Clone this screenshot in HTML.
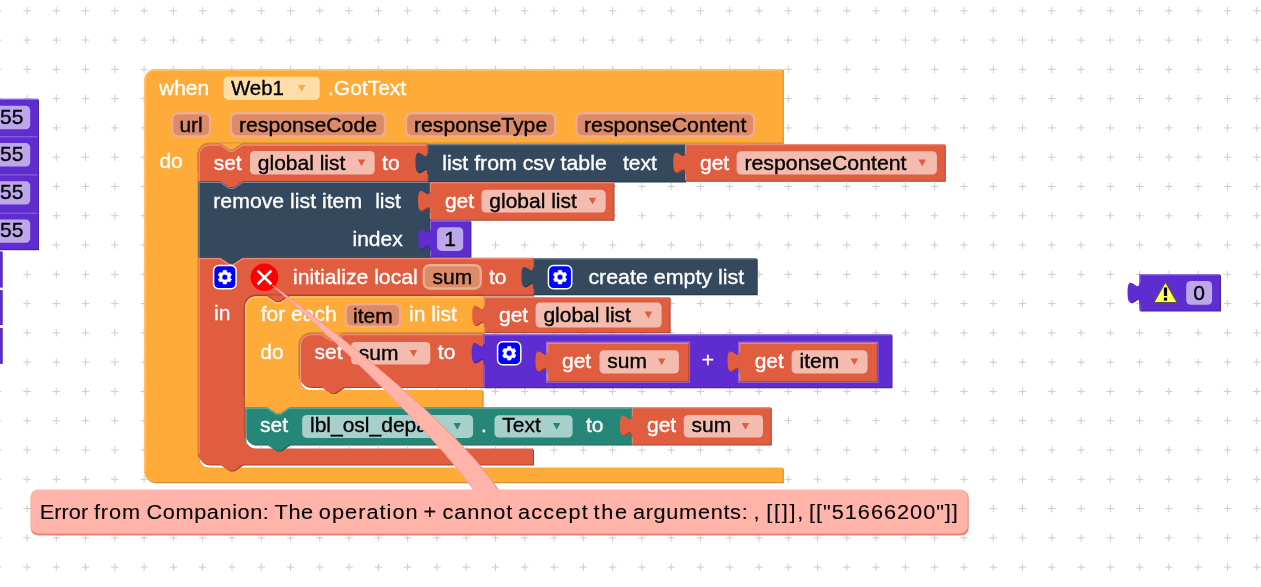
<!DOCTYPE html><html><head><meta charset="utf-8"><style>html,body{margin:0;padding:0;background:#fff;overflow:hidden}svg{display:block;will-change:transform}text{font-family:"Liberation Sans",sans-serif}</style></head><body>
<svg width="1261" height="587" viewBox="0 0 1261 587">
<rect width="1261" height="587" fill="#fff"/>
<path d="M-5.98,10.80h7.40M-2.28,7.10v7.40M-5.98,40.08h7.40M-2.28,36.38v7.40M-5.98,69.36h7.40M-2.28,65.66v7.40M-5.98,98.64h7.40M-2.28,94.94v7.40M-5.98,127.92h7.40M-2.28,124.22v7.40M-5.98,157.20h7.40M-2.28,153.50v7.40M-5.98,186.48h7.40M-2.28,182.78v7.40M-5.98,215.76h7.40M-2.28,212.06v7.40M-5.98,245.04h7.40M-2.28,241.34v7.40M-5.98,274.32h7.40M-2.28,270.62v7.40M-5.98,303.60h7.40M-2.28,299.90v7.40M-5.98,332.88h7.40M-2.28,329.18v7.40M-5.98,362.16h7.40M-2.28,358.46v7.40M-5.98,391.44h7.40M-2.28,387.74v7.40M-5.98,420.72h7.40M-2.28,417.02v7.40M-5.98,450.00h7.40M-2.28,446.30v7.40M-5.98,479.28h7.40M-2.28,475.58v7.40M-5.98,508.56h7.40M-2.28,504.86v7.40M-5.98,537.84h7.40M-2.28,534.14v7.40M-5.98,567.12h7.40M-2.28,563.42v7.40M23.30,10.80h7.40M27.00,7.10v7.40M23.30,40.08h7.40M27.00,36.38v7.40M23.30,69.36h7.40M27.00,65.66v7.40M23.30,98.64h7.40M27.00,94.94v7.40M23.30,127.92h7.40M27.00,124.22v7.40M23.30,157.20h7.40M27.00,153.50v7.40M23.30,186.48h7.40M27.00,182.78v7.40M23.30,215.76h7.40M27.00,212.06v7.40M23.30,245.04h7.40M27.00,241.34v7.40M23.30,274.32h7.40M27.00,270.62v7.40M23.30,303.60h7.40M27.00,299.90v7.40M23.30,332.88h7.40M27.00,329.18v7.40M23.30,362.16h7.40M27.00,358.46v7.40M23.30,391.44h7.40M27.00,387.74v7.40M23.30,420.72h7.40M27.00,417.02v7.40M23.30,450.00h7.40M27.00,446.30v7.40M23.30,479.28h7.40M27.00,475.58v7.40M23.30,508.56h7.40M27.00,504.86v7.40M23.30,537.84h7.40M27.00,534.14v7.40M23.30,567.12h7.40M27.00,563.42v7.40M52.58,10.80h7.40M56.28,7.10v7.40M52.58,40.08h7.40M56.28,36.38v7.40M52.58,69.36h7.40M56.28,65.66v7.40M52.58,98.64h7.40M56.28,94.94v7.40M52.58,127.92h7.40M56.28,124.22v7.40M52.58,157.20h7.40M56.28,153.50v7.40M52.58,186.48h7.40M56.28,182.78v7.40M52.58,215.76h7.40M56.28,212.06v7.40M52.58,245.04h7.40M56.28,241.34v7.40M52.58,274.32h7.40M56.28,270.62v7.40M52.58,303.60h7.40M56.28,299.90v7.40M52.58,332.88h7.40M56.28,329.18v7.40M52.58,362.16h7.40M56.28,358.46v7.40M52.58,391.44h7.40M56.28,387.74v7.40M52.58,420.72h7.40M56.28,417.02v7.40M52.58,450.00h7.40M56.28,446.30v7.40M52.58,479.28h7.40M56.28,475.58v7.40M52.58,508.56h7.40M56.28,504.86v7.40M52.58,537.84h7.40M56.28,534.14v7.40M52.58,567.12h7.40M56.28,563.42v7.40M81.86,10.80h7.40M85.56,7.10v7.40M81.86,40.08h7.40M85.56,36.38v7.40M81.86,69.36h7.40M85.56,65.66v7.40M81.86,98.64h7.40M85.56,94.94v7.40M81.86,127.92h7.40M85.56,124.22v7.40M81.86,157.20h7.40M85.56,153.50v7.40M81.86,186.48h7.40M85.56,182.78v7.40M81.86,215.76h7.40M85.56,212.06v7.40M81.86,245.04h7.40M85.56,241.34v7.40M81.86,274.32h7.40M85.56,270.62v7.40M81.86,303.60h7.40M85.56,299.90v7.40M81.86,332.88h7.40M85.56,329.18v7.40M81.86,362.16h7.40M85.56,358.46v7.40M81.86,391.44h7.40M85.56,387.74v7.40M81.86,420.72h7.40M85.56,417.02v7.40M81.86,450.00h7.40M85.56,446.30v7.40M81.86,479.28h7.40M85.56,475.58v7.40M81.86,508.56h7.40M85.56,504.86v7.40M81.86,537.84h7.40M85.56,534.14v7.40M81.86,567.12h7.40M85.56,563.42v7.40M111.14,10.80h7.40M114.84,7.10v7.40M111.14,40.08h7.40M114.84,36.38v7.40M111.14,69.36h7.40M114.84,65.66v7.40M111.14,98.64h7.40M114.84,94.94v7.40M111.14,127.92h7.40M114.84,124.22v7.40M111.14,157.20h7.40M114.84,153.50v7.40M111.14,186.48h7.40M114.84,182.78v7.40M111.14,215.76h7.40M114.84,212.06v7.40M111.14,245.04h7.40M114.84,241.34v7.40M111.14,274.32h7.40M114.84,270.62v7.40M111.14,303.60h7.40M114.84,299.90v7.40M111.14,332.88h7.40M114.84,329.18v7.40M111.14,362.16h7.40M114.84,358.46v7.40M111.14,391.44h7.40M114.84,387.74v7.40M111.14,420.72h7.40M114.84,417.02v7.40M111.14,450.00h7.40M114.84,446.30v7.40M111.14,479.28h7.40M114.84,475.58v7.40M111.14,508.56h7.40M114.84,504.86v7.40M111.14,537.84h7.40M114.84,534.14v7.40M111.14,567.12h7.40M114.84,563.42v7.40M140.42,10.80h7.40M144.12,7.10v7.40M140.42,40.08h7.40M144.12,36.38v7.40M140.42,69.36h7.40M144.12,65.66v7.40M140.42,98.64h7.40M144.12,94.94v7.40M140.42,127.92h7.40M144.12,124.22v7.40M140.42,157.20h7.40M144.12,153.50v7.40M140.42,186.48h7.40M144.12,182.78v7.40M140.42,215.76h7.40M144.12,212.06v7.40M140.42,245.04h7.40M144.12,241.34v7.40M140.42,274.32h7.40M144.12,270.62v7.40M140.42,303.60h7.40M144.12,299.90v7.40M140.42,332.88h7.40M144.12,329.18v7.40M140.42,362.16h7.40M144.12,358.46v7.40M140.42,391.44h7.40M144.12,387.74v7.40M140.42,420.72h7.40M144.12,417.02v7.40M140.42,450.00h7.40M144.12,446.30v7.40M140.42,479.28h7.40M144.12,475.58v7.40M140.42,508.56h7.40M144.12,504.86v7.40M140.42,537.84h7.40M144.12,534.14v7.40M140.42,567.12h7.40M144.12,563.42v7.40M169.70,10.80h7.40M173.40,7.10v7.40M169.70,40.08h7.40M173.40,36.38v7.40M169.70,69.36h7.40M173.40,65.66v7.40M169.70,98.64h7.40M173.40,94.94v7.40M169.70,127.92h7.40M173.40,124.22v7.40M169.70,157.20h7.40M173.40,153.50v7.40M169.70,186.48h7.40M173.40,182.78v7.40M169.70,215.76h7.40M173.40,212.06v7.40M169.70,245.04h7.40M173.40,241.34v7.40M169.70,274.32h7.40M173.40,270.62v7.40M169.70,303.60h7.40M173.40,299.90v7.40M169.70,332.88h7.40M173.40,329.18v7.40M169.70,362.16h7.40M173.40,358.46v7.40M169.70,391.44h7.40M173.40,387.74v7.40M169.70,420.72h7.40M173.40,417.02v7.40M169.70,450.00h7.40M173.40,446.30v7.40M169.70,479.28h7.40M173.40,475.58v7.40M169.70,508.56h7.40M173.40,504.86v7.40M169.70,537.84h7.40M173.40,534.14v7.40M169.70,567.12h7.40M173.40,563.42v7.40M198.98,10.80h7.40M202.68,7.10v7.40M198.98,40.08h7.40M202.68,36.38v7.40M198.98,69.36h7.40M202.68,65.66v7.40M198.98,98.64h7.40M202.68,94.94v7.40M198.98,127.92h7.40M202.68,124.22v7.40M198.98,157.20h7.40M202.68,153.50v7.40M198.98,186.48h7.40M202.68,182.78v7.40M198.98,215.76h7.40M202.68,212.06v7.40M198.98,245.04h7.40M202.68,241.34v7.40M198.98,274.32h7.40M202.68,270.62v7.40M198.98,303.60h7.40M202.68,299.90v7.40M198.98,332.88h7.40M202.68,329.18v7.40M198.98,362.16h7.40M202.68,358.46v7.40M198.98,391.44h7.40M202.68,387.74v7.40M198.98,420.72h7.40M202.68,417.02v7.40M198.98,450.00h7.40M202.68,446.30v7.40M198.98,479.28h7.40M202.68,475.58v7.40M198.98,508.56h7.40M202.68,504.86v7.40M198.98,537.84h7.40M202.68,534.14v7.40M198.98,567.12h7.40M202.68,563.42v7.40M228.26,10.80h7.40M231.96,7.10v7.40M228.26,40.08h7.40M231.96,36.38v7.40M228.26,69.36h7.40M231.96,65.66v7.40M228.26,98.64h7.40M231.96,94.94v7.40M228.26,127.92h7.40M231.96,124.22v7.40M228.26,157.20h7.40M231.96,153.50v7.40M228.26,186.48h7.40M231.96,182.78v7.40M228.26,215.76h7.40M231.96,212.06v7.40M228.26,245.04h7.40M231.96,241.34v7.40M228.26,274.32h7.40M231.96,270.62v7.40M228.26,303.60h7.40M231.96,299.90v7.40M228.26,332.88h7.40M231.96,329.18v7.40M228.26,362.16h7.40M231.96,358.46v7.40M228.26,391.44h7.40M231.96,387.74v7.40M228.26,420.72h7.40M231.96,417.02v7.40M228.26,450.00h7.40M231.96,446.30v7.40M228.26,479.28h7.40M231.96,475.58v7.40M228.26,508.56h7.40M231.96,504.86v7.40M228.26,537.84h7.40M231.96,534.14v7.40M228.26,567.12h7.40M231.96,563.42v7.40M257.54,10.80h7.40M261.24,7.10v7.40M257.54,40.08h7.40M261.24,36.38v7.40M257.54,69.36h7.40M261.24,65.66v7.40M257.54,98.64h7.40M261.24,94.94v7.40M257.54,127.92h7.40M261.24,124.22v7.40M257.54,157.20h7.40M261.24,153.50v7.40M257.54,186.48h7.40M261.24,182.78v7.40M257.54,215.76h7.40M261.24,212.06v7.40M257.54,245.04h7.40M261.24,241.34v7.40M257.54,274.32h7.40M261.24,270.62v7.40M257.54,303.60h7.40M261.24,299.90v7.40M257.54,332.88h7.40M261.24,329.18v7.40M257.54,362.16h7.40M261.24,358.46v7.40M257.54,391.44h7.40M261.24,387.74v7.40M257.54,420.72h7.40M261.24,417.02v7.40M257.54,450.00h7.40M261.24,446.30v7.40M257.54,479.28h7.40M261.24,475.58v7.40M257.54,508.56h7.40M261.24,504.86v7.40M257.54,537.84h7.40M261.24,534.14v7.40M257.54,567.12h7.40M261.24,563.42v7.40M286.82,10.80h7.40M290.52,7.10v7.40M286.82,40.08h7.40M290.52,36.38v7.40M286.82,69.36h7.40M290.52,65.66v7.40M286.82,98.64h7.40M290.52,94.94v7.40M286.82,127.92h7.40M290.52,124.22v7.40M286.82,157.20h7.40M290.52,153.50v7.40M286.82,186.48h7.40M290.52,182.78v7.40M286.82,215.76h7.40M290.52,212.06v7.40M286.82,245.04h7.40M290.52,241.34v7.40M286.82,274.32h7.40M290.52,270.62v7.40M286.82,303.60h7.40M290.52,299.90v7.40M286.82,332.88h7.40M290.52,329.18v7.40M286.82,362.16h7.40M290.52,358.46v7.40M286.82,391.44h7.40M290.52,387.74v7.40M286.82,420.72h7.40M290.52,417.02v7.40M286.82,450.00h7.40M290.52,446.30v7.40M286.82,479.28h7.40M290.52,475.58v7.40M286.82,508.56h7.40M290.52,504.86v7.40M286.82,537.84h7.40M290.52,534.14v7.40M286.82,567.12h7.40M290.52,563.42v7.40M316.10,10.80h7.40M319.80,7.10v7.40M316.10,40.08h7.40M319.80,36.38v7.40M316.10,69.36h7.40M319.80,65.66v7.40M316.10,98.64h7.40M319.80,94.94v7.40M316.10,127.92h7.40M319.80,124.22v7.40M316.10,157.20h7.40M319.80,153.50v7.40M316.10,186.48h7.40M319.80,182.78v7.40M316.10,215.76h7.40M319.80,212.06v7.40M316.10,245.04h7.40M319.80,241.34v7.40M316.10,274.32h7.40M319.80,270.62v7.40M316.10,303.60h7.40M319.80,299.90v7.40M316.10,332.88h7.40M319.80,329.18v7.40M316.10,362.16h7.40M319.80,358.46v7.40M316.10,391.44h7.40M319.80,387.74v7.40M316.10,420.72h7.40M319.80,417.02v7.40M316.10,450.00h7.40M319.80,446.30v7.40M316.10,479.28h7.40M319.80,475.58v7.40M316.10,508.56h7.40M319.80,504.86v7.40M316.10,537.84h7.40M319.80,534.14v7.40M316.10,567.12h7.40M319.80,563.42v7.40M345.38,10.80h7.40M349.08,7.10v7.40M345.38,40.08h7.40M349.08,36.38v7.40M345.38,69.36h7.40M349.08,65.66v7.40M345.38,98.64h7.40M349.08,94.94v7.40M345.38,127.92h7.40M349.08,124.22v7.40M345.38,157.20h7.40M349.08,153.50v7.40M345.38,186.48h7.40M349.08,182.78v7.40M345.38,215.76h7.40M349.08,212.06v7.40M345.38,245.04h7.40M349.08,241.34v7.40M345.38,274.32h7.40M349.08,270.62v7.40M345.38,303.60h7.40M349.08,299.90v7.40M345.38,332.88h7.40M349.08,329.18v7.40M345.38,362.16h7.40M349.08,358.46v7.40M345.38,391.44h7.40M349.08,387.74v7.40M345.38,420.72h7.40M349.08,417.02v7.40M345.38,450.00h7.40M349.08,446.30v7.40M345.38,479.28h7.40M349.08,475.58v7.40M345.38,508.56h7.40M349.08,504.86v7.40M345.38,537.84h7.40M349.08,534.14v7.40M345.38,567.12h7.40M349.08,563.42v7.40M374.66,10.80h7.40M378.36,7.10v7.40M374.66,40.08h7.40M378.36,36.38v7.40M374.66,69.36h7.40M378.36,65.66v7.40M374.66,98.64h7.40M378.36,94.94v7.40M374.66,127.92h7.40M378.36,124.22v7.40M374.66,157.20h7.40M378.36,153.50v7.40M374.66,186.48h7.40M378.36,182.78v7.40M374.66,215.76h7.40M378.36,212.06v7.40M374.66,245.04h7.40M378.36,241.34v7.40M374.66,274.32h7.40M378.36,270.62v7.40M374.66,303.60h7.40M378.36,299.90v7.40M374.66,332.88h7.40M378.36,329.18v7.40M374.66,362.16h7.40M378.36,358.46v7.40M374.66,391.44h7.40M378.36,387.74v7.40M374.66,420.72h7.40M378.36,417.02v7.40M374.66,450.00h7.40M378.36,446.30v7.40M374.66,479.28h7.40M378.36,475.58v7.40M374.66,508.56h7.40M378.36,504.86v7.40M374.66,537.84h7.40M378.36,534.14v7.40M374.66,567.12h7.40M378.36,563.42v7.40M403.94,10.80h7.40M407.64,7.10v7.40M403.94,40.08h7.40M407.64,36.38v7.40M403.94,69.36h7.40M407.64,65.66v7.40M403.94,98.64h7.40M407.64,94.94v7.40M403.94,127.92h7.40M407.64,124.22v7.40M403.94,157.20h7.40M407.64,153.50v7.40M403.94,186.48h7.40M407.64,182.78v7.40M403.94,215.76h7.40M407.64,212.06v7.40M403.94,245.04h7.40M407.64,241.34v7.40M403.94,274.32h7.40M407.64,270.62v7.40M403.94,303.60h7.40M407.64,299.90v7.40M403.94,332.88h7.40M407.64,329.18v7.40M403.94,362.16h7.40M407.64,358.46v7.40M403.94,391.44h7.40M407.64,387.74v7.40M403.94,420.72h7.40M407.64,417.02v7.40M403.94,450.00h7.40M407.64,446.30v7.40M403.94,479.28h7.40M407.64,475.58v7.40M403.94,508.56h7.40M407.64,504.86v7.40M403.94,537.84h7.40M407.64,534.14v7.40M403.94,567.12h7.40M407.64,563.42v7.40M433.22,10.80h7.40M436.92,7.10v7.40M433.22,40.08h7.40M436.92,36.38v7.40M433.22,69.36h7.40M436.92,65.66v7.40M433.22,98.64h7.40M436.92,94.94v7.40M433.22,127.92h7.40M436.92,124.22v7.40M433.22,157.20h7.40M436.92,153.50v7.40M433.22,186.48h7.40M436.92,182.78v7.40M433.22,215.76h7.40M436.92,212.06v7.40M433.22,245.04h7.40M436.92,241.34v7.40M433.22,274.32h7.40M436.92,270.62v7.40M433.22,303.60h7.40M436.92,299.90v7.40M433.22,332.88h7.40M436.92,329.18v7.40M433.22,362.16h7.40M436.92,358.46v7.40M433.22,391.44h7.40M436.92,387.74v7.40M433.22,420.72h7.40M436.92,417.02v7.40M433.22,450.00h7.40M436.92,446.30v7.40M433.22,479.28h7.40M436.92,475.58v7.40M433.22,508.56h7.40M436.92,504.86v7.40M433.22,537.84h7.40M436.92,534.14v7.40M433.22,567.12h7.40M436.92,563.42v7.40M462.50,10.80h7.40M466.20,7.10v7.40M462.50,40.08h7.40M466.20,36.38v7.40M462.50,69.36h7.40M466.20,65.66v7.40M462.50,98.64h7.40M466.20,94.94v7.40M462.50,127.92h7.40M466.20,124.22v7.40M462.50,157.20h7.40M466.20,153.50v7.40M462.50,186.48h7.40M466.20,182.78v7.40M462.50,215.76h7.40M466.20,212.06v7.40M462.50,245.04h7.40M466.20,241.34v7.40M462.50,274.32h7.40M466.20,270.62v7.40M462.50,303.60h7.40M466.20,299.90v7.40M462.50,332.88h7.40M466.20,329.18v7.40M462.50,362.16h7.40M466.20,358.46v7.40M462.50,391.44h7.40M466.20,387.74v7.40M462.50,420.72h7.40M466.20,417.02v7.40M462.50,450.00h7.40M466.20,446.30v7.40M462.50,479.28h7.40M466.20,475.58v7.40M462.50,508.56h7.40M466.20,504.86v7.40M462.50,537.84h7.40M466.20,534.14v7.40M462.50,567.12h7.40M466.20,563.42v7.40M491.78,10.80h7.40M495.48,7.10v7.40M491.78,40.08h7.40M495.48,36.38v7.40M491.78,69.36h7.40M495.48,65.66v7.40M491.78,98.64h7.40M495.48,94.94v7.40M491.78,127.92h7.40M495.48,124.22v7.40M491.78,157.20h7.40M495.48,153.50v7.40M491.78,186.48h7.40M495.48,182.78v7.40M491.78,215.76h7.40M495.48,212.06v7.40M491.78,245.04h7.40M495.48,241.34v7.40M491.78,274.32h7.40M495.48,270.62v7.40M491.78,303.60h7.40M495.48,299.90v7.40M491.78,332.88h7.40M495.48,329.18v7.40M491.78,362.16h7.40M495.48,358.46v7.40M491.78,391.44h7.40M495.48,387.74v7.40M491.78,420.72h7.40M495.48,417.02v7.40M491.78,450.00h7.40M495.48,446.30v7.40M491.78,479.28h7.40M495.48,475.58v7.40M491.78,508.56h7.40M495.48,504.86v7.40M491.78,537.84h7.40M495.48,534.14v7.40M491.78,567.12h7.40M495.48,563.42v7.40M521.06,10.80h7.40M524.76,7.10v7.40M521.06,40.08h7.40M524.76,36.38v7.40M521.06,69.36h7.40M524.76,65.66v7.40M521.06,98.64h7.40M524.76,94.94v7.40M521.06,127.92h7.40M524.76,124.22v7.40M521.06,157.20h7.40M524.76,153.50v7.40M521.06,186.48h7.40M524.76,182.78v7.40M521.06,215.76h7.40M524.76,212.06v7.40M521.06,245.04h7.40M524.76,241.34v7.40M521.06,274.32h7.40M524.76,270.62v7.40M521.06,303.60h7.40M524.76,299.90v7.40M521.06,332.88h7.40M524.76,329.18v7.40M521.06,362.16h7.40M524.76,358.46v7.40M521.06,391.44h7.40M524.76,387.74v7.40M521.06,420.72h7.40M524.76,417.02v7.40M521.06,450.00h7.40M524.76,446.30v7.40M521.06,479.28h7.40M524.76,475.58v7.40M521.06,508.56h7.40M524.76,504.86v7.40M521.06,537.84h7.40M524.76,534.14v7.40M521.06,567.12h7.40M524.76,563.42v7.40M550.34,10.80h7.40M554.04,7.10v7.40M550.34,40.08h7.40M554.04,36.38v7.40M550.34,69.36h7.40M554.04,65.66v7.40M550.34,98.64h7.40M554.04,94.94v7.40M550.34,127.92h7.40M554.04,124.22v7.40M550.34,157.20h7.40M554.04,153.50v7.40M550.34,186.48h7.40M554.04,182.78v7.40M550.34,215.76h7.40M554.04,212.06v7.40M550.34,245.04h7.40M554.04,241.34v7.40M550.34,274.32h7.40M554.04,270.62v7.40M550.34,303.60h7.40M554.04,299.90v7.40M550.34,332.88h7.40M554.04,329.18v7.40M550.34,362.16h7.40M554.04,358.46v7.40M550.34,391.44h7.40M554.04,387.74v7.40M550.34,420.72h7.40M554.04,417.02v7.40M550.34,450.00h7.40M554.04,446.30v7.40M550.34,479.28h7.40M554.04,475.58v7.40M550.34,508.56h7.40M554.04,504.86v7.40M550.34,537.84h7.40M554.04,534.14v7.40M550.34,567.12h7.40M554.04,563.42v7.40M579.62,10.80h7.40M583.32,7.10v7.40M579.62,40.08h7.40M583.32,36.38v7.40M579.62,69.36h7.40M583.32,65.66v7.40M579.62,98.64h7.40M583.32,94.94v7.40M579.62,127.92h7.40M583.32,124.22v7.40M579.62,157.20h7.40M583.32,153.50v7.40M579.62,186.48h7.40M583.32,182.78v7.40M579.62,215.76h7.40M583.32,212.06v7.40M579.62,245.04h7.40M583.32,241.34v7.40M579.62,274.32h7.40M583.32,270.62v7.40M579.62,303.60h7.40M583.32,299.90v7.40M579.62,332.88h7.40M583.32,329.18v7.40M579.62,362.16h7.40M583.32,358.46v7.40M579.62,391.44h7.40M583.32,387.74v7.40M579.62,420.72h7.40M583.32,417.02v7.40M579.62,450.00h7.40M583.32,446.30v7.40M579.62,479.28h7.40M583.32,475.58v7.40M579.62,508.56h7.40M583.32,504.86v7.40M579.62,537.84h7.40M583.32,534.14v7.40M579.62,567.12h7.40M583.32,563.42v7.40M608.90,10.80h7.40M612.60,7.10v7.40M608.90,40.08h7.40M612.60,36.38v7.40M608.90,69.36h7.40M612.60,65.66v7.40M608.90,98.64h7.40M612.60,94.94v7.40M608.90,127.92h7.40M612.60,124.22v7.40M608.90,157.20h7.40M612.60,153.50v7.40M608.90,186.48h7.40M612.60,182.78v7.40M608.90,215.76h7.40M612.60,212.06v7.40M608.90,245.04h7.40M612.60,241.34v7.40M608.90,274.32h7.40M612.60,270.62v7.40M608.90,303.60h7.40M612.60,299.90v7.40M608.90,332.88h7.40M612.60,329.18v7.40M608.90,362.16h7.40M612.60,358.46v7.40M608.90,391.44h7.40M612.60,387.74v7.40M608.90,420.72h7.40M612.60,417.02v7.40M608.90,450.00h7.40M612.60,446.30v7.40M608.90,479.28h7.40M612.60,475.58v7.40M608.90,508.56h7.40M612.60,504.86v7.40M608.90,537.84h7.40M612.60,534.14v7.40M608.90,567.12h7.40M612.60,563.42v7.40M638.18,10.80h7.40M641.88,7.10v7.40M638.18,40.08h7.40M641.88,36.38v7.40M638.18,69.36h7.40M641.88,65.66v7.40M638.18,98.64h7.40M641.88,94.94v7.40M638.18,127.92h7.40M641.88,124.22v7.40M638.18,157.20h7.40M641.88,153.50v7.40M638.18,186.48h7.40M641.88,182.78v7.40M638.18,215.76h7.40M641.88,212.06v7.40M638.18,245.04h7.40M641.88,241.34v7.40M638.18,274.32h7.40M641.88,270.62v7.40M638.18,303.60h7.40M641.88,299.90v7.40M638.18,332.88h7.40M641.88,329.18v7.40M638.18,362.16h7.40M641.88,358.46v7.40M638.18,391.44h7.40M641.88,387.74v7.40M638.18,420.72h7.40M641.88,417.02v7.40M638.18,450.00h7.40M641.88,446.30v7.40M638.18,479.28h7.40M641.88,475.58v7.40M638.18,508.56h7.40M641.88,504.86v7.40M638.18,537.84h7.40M641.88,534.14v7.40M638.18,567.12h7.40M641.88,563.42v7.40M667.46,10.80h7.40M671.16,7.10v7.40M667.46,40.08h7.40M671.16,36.38v7.40M667.46,69.36h7.40M671.16,65.66v7.40M667.46,98.64h7.40M671.16,94.94v7.40M667.46,127.92h7.40M671.16,124.22v7.40M667.46,157.20h7.40M671.16,153.50v7.40M667.46,186.48h7.40M671.16,182.78v7.40M667.46,215.76h7.40M671.16,212.06v7.40M667.46,245.04h7.40M671.16,241.34v7.40M667.46,274.32h7.40M671.16,270.62v7.40M667.46,303.60h7.40M671.16,299.90v7.40M667.46,332.88h7.40M671.16,329.18v7.40M667.46,362.16h7.40M671.16,358.46v7.40M667.46,391.44h7.40M671.16,387.74v7.40M667.46,420.72h7.40M671.16,417.02v7.40M667.46,450.00h7.40M671.16,446.30v7.40M667.46,479.28h7.40M671.16,475.58v7.40M667.46,508.56h7.40M671.16,504.86v7.40M667.46,537.84h7.40M671.16,534.14v7.40M667.46,567.12h7.40M671.16,563.42v7.40M696.74,10.80h7.40M700.44,7.10v7.40M696.74,40.08h7.40M700.44,36.38v7.40M696.74,69.36h7.40M700.44,65.66v7.40M696.74,98.64h7.40M700.44,94.94v7.40M696.74,127.92h7.40M700.44,124.22v7.40M696.74,157.20h7.40M700.44,153.50v7.40M696.74,186.48h7.40M700.44,182.78v7.40M696.74,215.76h7.40M700.44,212.06v7.40M696.74,245.04h7.40M700.44,241.34v7.40M696.74,274.32h7.40M700.44,270.62v7.40M696.74,303.60h7.40M700.44,299.90v7.40M696.74,332.88h7.40M700.44,329.18v7.40M696.74,362.16h7.40M700.44,358.46v7.40M696.74,391.44h7.40M700.44,387.74v7.40M696.74,420.72h7.40M700.44,417.02v7.40M696.74,450.00h7.40M700.44,446.30v7.40M696.74,479.28h7.40M700.44,475.58v7.40M696.74,508.56h7.40M700.44,504.86v7.40M696.74,537.84h7.40M700.44,534.14v7.40M696.74,567.12h7.40M700.44,563.42v7.40M726.02,10.80h7.40M729.72,7.10v7.40M726.02,40.08h7.40M729.72,36.38v7.40M726.02,69.36h7.40M729.72,65.66v7.40M726.02,98.64h7.40M729.72,94.94v7.40M726.02,127.92h7.40M729.72,124.22v7.40M726.02,157.20h7.40M729.72,153.50v7.40M726.02,186.48h7.40M729.72,182.78v7.40M726.02,215.76h7.40M729.72,212.06v7.40M726.02,245.04h7.40M729.72,241.34v7.40M726.02,274.32h7.40M729.72,270.62v7.40M726.02,303.60h7.40M729.72,299.90v7.40M726.02,332.88h7.40M729.72,329.18v7.40M726.02,362.16h7.40M729.72,358.46v7.40M726.02,391.44h7.40M729.72,387.74v7.40M726.02,420.72h7.40M729.72,417.02v7.40M726.02,450.00h7.40M729.72,446.30v7.40M726.02,479.28h7.40M729.72,475.58v7.40M726.02,508.56h7.40M729.72,504.86v7.40M726.02,537.84h7.40M729.72,534.14v7.40M726.02,567.12h7.40M729.72,563.42v7.40M755.30,10.80h7.40M759.00,7.10v7.40M755.30,40.08h7.40M759.00,36.38v7.40M755.30,69.36h7.40M759.00,65.66v7.40M755.30,98.64h7.40M759.00,94.94v7.40M755.30,127.92h7.40M759.00,124.22v7.40M755.30,157.20h7.40M759.00,153.50v7.40M755.30,186.48h7.40M759.00,182.78v7.40M755.30,215.76h7.40M759.00,212.06v7.40M755.30,245.04h7.40M759.00,241.34v7.40M755.30,274.32h7.40M759.00,270.62v7.40M755.30,303.60h7.40M759.00,299.90v7.40M755.30,332.88h7.40M759.00,329.18v7.40M755.30,362.16h7.40M759.00,358.46v7.40M755.30,391.44h7.40M759.00,387.74v7.40M755.30,420.72h7.40M759.00,417.02v7.40M755.30,450.00h7.40M759.00,446.30v7.40M755.30,479.28h7.40M759.00,475.58v7.40M755.30,508.56h7.40M759.00,504.86v7.40M755.30,537.84h7.40M759.00,534.14v7.40M755.30,567.12h7.40M759.00,563.42v7.40M784.58,10.80h7.40M788.28,7.10v7.40M784.58,40.08h7.40M788.28,36.38v7.40M784.58,69.36h7.40M788.28,65.66v7.40M784.58,98.64h7.40M788.28,94.94v7.40M784.58,127.92h7.40M788.28,124.22v7.40M784.58,157.20h7.40M788.28,153.50v7.40M784.58,186.48h7.40M788.28,182.78v7.40M784.58,215.76h7.40M788.28,212.06v7.40M784.58,245.04h7.40M788.28,241.34v7.40M784.58,274.32h7.40M788.28,270.62v7.40M784.58,303.60h7.40M788.28,299.90v7.40M784.58,332.88h7.40M788.28,329.18v7.40M784.58,362.16h7.40M788.28,358.46v7.40M784.58,391.44h7.40M788.28,387.74v7.40M784.58,420.72h7.40M788.28,417.02v7.40M784.58,450.00h7.40M788.28,446.30v7.40M784.58,479.28h7.40M788.28,475.58v7.40M784.58,508.56h7.40M788.28,504.86v7.40M784.58,537.84h7.40M788.28,534.14v7.40M784.58,567.12h7.40M788.28,563.42v7.40M813.86,10.80h7.40M817.56,7.10v7.40M813.86,40.08h7.40M817.56,36.38v7.40M813.86,69.36h7.40M817.56,65.66v7.40M813.86,98.64h7.40M817.56,94.94v7.40M813.86,127.92h7.40M817.56,124.22v7.40M813.86,157.20h7.40M817.56,153.50v7.40M813.86,186.48h7.40M817.56,182.78v7.40M813.86,215.76h7.40M817.56,212.06v7.40M813.86,245.04h7.40M817.56,241.34v7.40M813.86,274.32h7.40M817.56,270.62v7.40M813.86,303.60h7.40M817.56,299.90v7.40M813.86,332.88h7.40M817.56,329.18v7.40M813.86,362.16h7.40M817.56,358.46v7.40M813.86,391.44h7.40M817.56,387.74v7.40M813.86,420.72h7.40M817.56,417.02v7.40M813.86,450.00h7.40M817.56,446.30v7.40M813.86,479.28h7.40M817.56,475.58v7.40M813.86,508.56h7.40M817.56,504.86v7.40M813.86,537.84h7.40M817.56,534.14v7.40M813.86,567.12h7.40M817.56,563.42v7.40M843.14,10.80h7.40M846.84,7.10v7.40M843.14,40.08h7.40M846.84,36.38v7.40M843.14,69.36h7.40M846.84,65.66v7.40M843.14,98.64h7.40M846.84,94.94v7.40M843.14,127.92h7.40M846.84,124.22v7.40M843.14,157.20h7.40M846.84,153.50v7.40M843.14,186.48h7.40M846.84,182.78v7.40M843.14,215.76h7.40M846.84,212.06v7.40M843.14,245.04h7.40M846.84,241.34v7.40M843.14,274.32h7.40M846.84,270.62v7.40M843.14,303.60h7.40M846.84,299.90v7.40M843.14,332.88h7.40M846.84,329.18v7.40M843.14,362.16h7.40M846.84,358.46v7.40M843.14,391.44h7.40M846.84,387.74v7.40M843.14,420.72h7.40M846.84,417.02v7.40M843.14,450.00h7.40M846.84,446.30v7.40M843.14,479.28h7.40M846.84,475.58v7.40M843.14,508.56h7.40M846.84,504.86v7.40M843.14,537.84h7.40M846.84,534.14v7.40M843.14,567.12h7.40M846.84,563.42v7.40M872.42,10.80h7.40M876.12,7.10v7.40M872.42,40.08h7.40M876.12,36.38v7.40M872.42,69.36h7.40M876.12,65.66v7.40M872.42,98.64h7.40M876.12,94.94v7.40M872.42,127.92h7.40M876.12,124.22v7.40M872.42,157.20h7.40M876.12,153.50v7.40M872.42,186.48h7.40M876.12,182.78v7.40M872.42,215.76h7.40M876.12,212.06v7.40M872.42,245.04h7.40M876.12,241.34v7.40M872.42,274.32h7.40M876.12,270.62v7.40M872.42,303.60h7.40M876.12,299.90v7.40M872.42,332.88h7.40M876.12,329.18v7.40M872.42,362.16h7.40M876.12,358.46v7.40M872.42,391.44h7.40M876.12,387.74v7.40M872.42,420.72h7.40M876.12,417.02v7.40M872.42,450.00h7.40M876.12,446.30v7.40M872.42,479.28h7.40M876.12,475.58v7.40M872.42,508.56h7.40M876.12,504.86v7.40M872.42,537.84h7.40M876.12,534.14v7.40M872.42,567.12h7.40M876.12,563.42v7.40M901.70,10.80h7.40M905.40,7.10v7.40M901.70,40.08h7.40M905.40,36.38v7.40M901.70,69.36h7.40M905.40,65.66v7.40M901.70,98.64h7.40M905.40,94.94v7.40M901.70,127.92h7.40M905.40,124.22v7.40M901.70,157.20h7.40M905.40,153.50v7.40M901.70,186.48h7.40M905.40,182.78v7.40M901.70,215.76h7.40M905.40,212.06v7.40M901.70,245.04h7.40M905.40,241.34v7.40M901.70,274.32h7.40M905.40,270.62v7.40M901.70,303.60h7.40M905.40,299.90v7.40M901.70,332.88h7.40M905.40,329.18v7.40M901.70,362.16h7.40M905.40,358.46v7.40M901.70,391.44h7.40M905.40,387.74v7.40M901.70,420.72h7.40M905.40,417.02v7.40M901.70,450.00h7.40M905.40,446.30v7.40M901.70,479.28h7.40M905.40,475.58v7.40M901.70,508.56h7.40M905.40,504.86v7.40M901.70,537.84h7.40M905.40,534.14v7.40M901.70,567.12h7.40M905.40,563.42v7.40M930.98,10.80h7.40M934.68,7.10v7.40M930.98,40.08h7.40M934.68,36.38v7.40M930.98,69.36h7.40M934.68,65.66v7.40M930.98,98.64h7.40M934.68,94.94v7.40M930.98,127.92h7.40M934.68,124.22v7.40M930.98,157.20h7.40M934.68,153.50v7.40M930.98,186.48h7.40M934.68,182.78v7.40M930.98,215.76h7.40M934.68,212.06v7.40M930.98,245.04h7.40M934.68,241.34v7.40M930.98,274.32h7.40M934.68,270.62v7.40M930.98,303.60h7.40M934.68,299.90v7.40M930.98,332.88h7.40M934.68,329.18v7.40M930.98,362.16h7.40M934.68,358.46v7.40M930.98,391.44h7.40M934.68,387.74v7.40M930.98,420.72h7.40M934.68,417.02v7.40M930.98,450.00h7.40M934.68,446.30v7.40M930.98,479.28h7.40M934.68,475.58v7.40M930.98,508.56h7.40M934.68,504.86v7.40M930.98,537.84h7.40M934.68,534.14v7.40M930.98,567.12h7.40M934.68,563.42v7.40M960.26,10.80h7.40M963.96,7.10v7.40M960.26,40.08h7.40M963.96,36.38v7.40M960.26,69.36h7.40M963.96,65.66v7.40M960.26,98.64h7.40M963.96,94.94v7.40M960.26,127.92h7.40M963.96,124.22v7.40M960.26,157.20h7.40M963.96,153.50v7.40M960.26,186.48h7.40M963.96,182.78v7.40M960.26,215.76h7.40M963.96,212.06v7.40M960.26,245.04h7.40M963.96,241.34v7.40M960.26,274.32h7.40M963.96,270.62v7.40M960.26,303.60h7.40M963.96,299.90v7.40M960.26,332.88h7.40M963.96,329.18v7.40M960.26,362.16h7.40M963.96,358.46v7.40M960.26,391.44h7.40M963.96,387.74v7.40M960.26,420.72h7.40M963.96,417.02v7.40M960.26,450.00h7.40M963.96,446.30v7.40M960.26,479.28h7.40M963.96,475.58v7.40M960.26,508.56h7.40M963.96,504.86v7.40M960.26,537.84h7.40M963.96,534.14v7.40M960.26,567.12h7.40M963.96,563.42v7.40M989.54,10.80h7.40M993.24,7.10v7.40M989.54,40.08h7.40M993.24,36.38v7.40M989.54,69.36h7.40M993.24,65.66v7.40M989.54,98.64h7.40M993.24,94.94v7.40M989.54,127.92h7.40M993.24,124.22v7.40M989.54,157.20h7.40M993.24,153.50v7.40M989.54,186.48h7.40M993.24,182.78v7.40M989.54,215.76h7.40M993.24,212.06v7.40M989.54,245.04h7.40M993.24,241.34v7.40M989.54,274.32h7.40M993.24,270.62v7.40M989.54,303.60h7.40M993.24,299.90v7.40M989.54,332.88h7.40M993.24,329.18v7.40M989.54,362.16h7.40M993.24,358.46v7.40M989.54,391.44h7.40M993.24,387.74v7.40M989.54,420.72h7.40M993.24,417.02v7.40M989.54,450.00h7.40M993.24,446.30v7.40M989.54,479.28h7.40M993.24,475.58v7.40M989.54,508.56h7.40M993.24,504.86v7.40M989.54,537.84h7.40M993.24,534.14v7.40M989.54,567.12h7.40M993.24,563.42v7.40M1018.82,10.80h7.40M1022.52,7.10v7.40M1018.82,40.08h7.40M1022.52,36.38v7.40M1018.82,69.36h7.40M1022.52,65.66v7.40M1018.82,98.64h7.40M1022.52,94.94v7.40M1018.82,127.92h7.40M1022.52,124.22v7.40M1018.82,157.20h7.40M1022.52,153.50v7.40M1018.82,186.48h7.40M1022.52,182.78v7.40M1018.82,215.76h7.40M1022.52,212.06v7.40M1018.82,245.04h7.40M1022.52,241.34v7.40M1018.82,274.32h7.40M1022.52,270.62v7.40M1018.82,303.60h7.40M1022.52,299.90v7.40M1018.82,332.88h7.40M1022.52,329.18v7.40M1018.82,362.16h7.40M1022.52,358.46v7.40M1018.82,391.44h7.40M1022.52,387.74v7.40M1018.82,420.72h7.40M1022.52,417.02v7.40M1018.82,450.00h7.40M1022.52,446.30v7.40M1018.82,479.28h7.40M1022.52,475.58v7.40M1018.82,508.56h7.40M1022.52,504.86v7.40M1018.82,537.84h7.40M1022.52,534.14v7.40M1018.82,567.12h7.40M1022.52,563.42v7.40M1048.10,10.80h7.40M1051.80,7.10v7.40M1048.10,40.08h7.40M1051.80,36.38v7.40M1048.10,69.36h7.40M1051.80,65.66v7.40M1048.10,98.64h7.40M1051.80,94.94v7.40M1048.10,127.92h7.40M1051.80,124.22v7.40M1048.10,157.20h7.40M1051.80,153.50v7.40M1048.10,186.48h7.40M1051.80,182.78v7.40M1048.10,215.76h7.40M1051.80,212.06v7.40M1048.10,245.04h7.40M1051.80,241.34v7.40M1048.10,274.32h7.40M1051.80,270.62v7.40M1048.10,303.60h7.40M1051.80,299.90v7.40M1048.10,332.88h7.40M1051.80,329.18v7.40M1048.10,362.16h7.40M1051.80,358.46v7.40M1048.10,391.44h7.40M1051.80,387.74v7.40M1048.10,420.72h7.40M1051.80,417.02v7.40M1048.10,450.00h7.40M1051.80,446.30v7.40M1048.10,479.28h7.40M1051.80,475.58v7.40M1048.10,508.56h7.40M1051.80,504.86v7.40M1048.10,537.84h7.40M1051.80,534.14v7.40M1048.10,567.12h7.40M1051.80,563.42v7.40M1077.38,10.80h7.40M1081.08,7.10v7.40M1077.38,40.08h7.40M1081.08,36.38v7.40M1077.38,69.36h7.40M1081.08,65.66v7.40M1077.38,98.64h7.40M1081.08,94.94v7.40M1077.38,127.92h7.40M1081.08,124.22v7.40M1077.38,157.20h7.40M1081.08,153.50v7.40M1077.38,186.48h7.40M1081.08,182.78v7.40M1077.38,215.76h7.40M1081.08,212.06v7.40M1077.38,245.04h7.40M1081.08,241.34v7.40M1077.38,274.32h7.40M1081.08,270.62v7.40M1077.38,303.60h7.40M1081.08,299.90v7.40M1077.38,332.88h7.40M1081.08,329.18v7.40M1077.38,362.16h7.40M1081.08,358.46v7.40M1077.38,391.44h7.40M1081.08,387.74v7.40M1077.38,420.72h7.40M1081.08,417.02v7.40M1077.38,450.00h7.40M1081.08,446.30v7.40M1077.38,479.28h7.40M1081.08,475.58v7.40M1077.38,508.56h7.40M1081.08,504.86v7.40M1077.38,537.84h7.40M1081.08,534.14v7.40M1077.38,567.12h7.40M1081.08,563.42v7.40M1106.66,10.80h7.40M1110.36,7.10v7.40M1106.66,40.08h7.40M1110.36,36.38v7.40M1106.66,69.36h7.40M1110.36,65.66v7.40M1106.66,98.64h7.40M1110.36,94.94v7.40M1106.66,127.92h7.40M1110.36,124.22v7.40M1106.66,157.20h7.40M1110.36,153.50v7.40M1106.66,186.48h7.40M1110.36,182.78v7.40M1106.66,215.76h7.40M1110.36,212.06v7.40M1106.66,245.04h7.40M1110.36,241.34v7.40M1106.66,274.32h7.40M1110.36,270.62v7.40M1106.66,303.60h7.40M1110.36,299.90v7.40M1106.66,332.88h7.40M1110.36,329.18v7.40M1106.66,362.16h7.40M1110.36,358.46v7.40M1106.66,391.44h7.40M1110.36,387.74v7.40M1106.66,420.72h7.40M1110.36,417.02v7.40M1106.66,450.00h7.40M1110.36,446.30v7.40M1106.66,479.28h7.40M1110.36,475.58v7.40M1106.66,508.56h7.40M1110.36,504.86v7.40M1106.66,537.84h7.40M1110.36,534.14v7.40M1106.66,567.12h7.40M1110.36,563.42v7.40M1135.94,10.80h7.40M1139.64,7.10v7.40M1135.94,40.08h7.40M1139.64,36.38v7.40M1135.94,69.36h7.40M1139.64,65.66v7.40M1135.94,98.64h7.40M1139.64,94.94v7.40M1135.94,127.92h7.40M1139.64,124.22v7.40M1135.94,157.20h7.40M1139.64,153.50v7.40M1135.94,186.48h7.40M1139.64,182.78v7.40M1135.94,215.76h7.40M1139.64,212.06v7.40M1135.94,245.04h7.40M1139.64,241.34v7.40M1135.94,274.32h7.40M1139.64,270.62v7.40M1135.94,303.60h7.40M1139.64,299.90v7.40M1135.94,332.88h7.40M1139.64,329.18v7.40M1135.94,362.16h7.40M1139.64,358.46v7.40M1135.94,391.44h7.40M1139.64,387.74v7.40M1135.94,420.72h7.40M1139.64,417.02v7.40M1135.94,450.00h7.40M1139.64,446.30v7.40M1135.94,479.28h7.40M1139.64,475.58v7.40M1135.94,508.56h7.40M1139.64,504.86v7.40M1135.94,537.84h7.40M1139.64,534.14v7.40M1135.94,567.12h7.40M1139.64,563.42v7.40M1165.22,10.80h7.40M1168.92,7.10v7.40M1165.22,40.08h7.40M1168.92,36.38v7.40M1165.22,69.36h7.40M1168.92,65.66v7.40M1165.22,98.64h7.40M1168.92,94.94v7.40M1165.22,127.92h7.40M1168.92,124.22v7.40M1165.22,157.20h7.40M1168.92,153.50v7.40M1165.22,186.48h7.40M1168.92,182.78v7.40M1165.22,215.76h7.40M1168.92,212.06v7.40M1165.22,245.04h7.40M1168.92,241.34v7.40M1165.22,274.32h7.40M1168.92,270.62v7.40M1165.22,303.60h7.40M1168.92,299.90v7.40M1165.22,332.88h7.40M1168.92,329.18v7.40M1165.22,362.16h7.40M1168.92,358.46v7.40M1165.22,391.44h7.40M1168.92,387.74v7.40M1165.22,420.72h7.40M1168.92,417.02v7.40M1165.22,450.00h7.40M1168.92,446.30v7.40M1165.22,479.28h7.40M1168.92,475.58v7.40M1165.22,508.56h7.40M1168.92,504.86v7.40M1165.22,537.84h7.40M1168.92,534.14v7.40M1165.22,567.12h7.40M1168.92,563.42v7.40M1194.50,10.80h7.40M1198.20,7.10v7.40M1194.50,40.08h7.40M1198.20,36.38v7.40M1194.50,69.36h7.40M1198.20,65.66v7.40M1194.50,98.64h7.40M1198.20,94.94v7.40M1194.50,127.92h7.40M1198.20,124.22v7.40M1194.50,157.20h7.40M1198.20,153.50v7.40M1194.50,186.48h7.40M1198.20,182.78v7.40M1194.50,215.76h7.40M1198.20,212.06v7.40M1194.50,245.04h7.40M1198.20,241.34v7.40M1194.50,274.32h7.40M1198.20,270.62v7.40M1194.50,303.60h7.40M1198.20,299.90v7.40M1194.50,332.88h7.40M1198.20,329.18v7.40M1194.50,362.16h7.40M1198.20,358.46v7.40M1194.50,391.44h7.40M1198.20,387.74v7.40M1194.50,420.72h7.40M1198.20,417.02v7.40M1194.50,450.00h7.40M1198.20,446.30v7.40M1194.50,479.28h7.40M1198.20,475.58v7.40M1194.50,508.56h7.40M1198.20,504.86v7.40M1194.50,537.84h7.40M1198.20,534.14v7.40M1194.50,567.12h7.40M1198.20,563.42v7.40M1223.78,10.80h7.40M1227.48,7.10v7.40M1223.78,40.08h7.40M1227.48,36.38v7.40M1223.78,69.36h7.40M1227.48,65.66v7.40M1223.78,98.64h7.40M1227.48,94.94v7.40M1223.78,127.92h7.40M1227.48,124.22v7.40M1223.78,157.20h7.40M1227.48,153.50v7.40M1223.78,186.48h7.40M1227.48,182.78v7.40M1223.78,215.76h7.40M1227.48,212.06v7.40M1223.78,245.04h7.40M1227.48,241.34v7.40M1223.78,274.32h7.40M1227.48,270.62v7.40M1223.78,303.60h7.40M1227.48,299.90v7.40M1223.78,332.88h7.40M1227.48,329.18v7.40M1223.78,362.16h7.40M1227.48,358.46v7.40M1223.78,391.44h7.40M1227.48,387.74v7.40M1223.78,420.72h7.40M1227.48,417.02v7.40M1223.78,450.00h7.40M1227.48,446.30v7.40M1223.78,479.28h7.40M1227.48,475.58v7.40M1223.78,508.56h7.40M1227.48,504.86v7.40M1223.78,537.84h7.40M1227.48,534.14v7.40M1223.78,567.12h7.40M1227.48,563.42v7.40M1253.06,10.80h7.40M1256.76,7.10v7.40M1253.06,40.08h7.40M1256.76,36.38v7.40M1253.06,69.36h7.40M1256.76,65.66v7.40M1253.06,98.64h7.40M1256.76,94.94v7.40M1253.06,127.92h7.40M1256.76,124.22v7.40M1253.06,157.20h7.40M1256.76,153.50v7.40M1253.06,186.48h7.40M1256.76,182.78v7.40M1253.06,215.76h7.40M1256.76,212.06v7.40M1253.06,245.04h7.40M1256.76,241.34v7.40M1253.06,274.32h7.40M1256.76,270.62v7.40M1253.06,303.60h7.40M1256.76,299.90v7.40M1253.06,332.88h7.40M1256.76,329.18v7.40M1253.06,362.16h7.40M1256.76,358.46v7.40M1253.06,391.44h7.40M1256.76,387.74v7.40M1253.06,420.72h7.40M1256.76,417.02v7.40M1253.06,450.00h7.40M1256.76,446.30v7.40M1253.06,479.28h7.40M1256.76,475.58v7.40M1253.06,508.56h7.40M1256.76,504.86v7.40M1253.06,537.84h7.40M1256.76,534.14v7.40M1253.06,567.12h7.40M1256.76,563.42v7.40" stroke="#cccccc" stroke-width="1" fill="none"/>
<rect x="-10" y="99.70" width="49.00" height="37.30" fill="#4520A0"/>
<rect x="-10" y="98.70" width="48.00" height="37.30" fill="#5F2DCF"/>
<path d="M -10,99.50 H 37.40" stroke="#9C7FE6" stroke-width="1" opacity="0.8"/>
<rect x="-10" y="105.80" width="40.2" height="23.4" rx="4.5" fill="#BCA7EA"/>
<text x="23.40" y="123.80" fill="#000" stroke="#000" stroke-width="0.35" font-size="21" text-anchor="end"  xml:space="preserve">55</text>
<rect x="-10" y="137.00" width="49.00" height="38.10" fill="#4520A0"/>
<rect x="-10" y="136.00" width="48.00" height="38.10" fill="#5F2DCF"/>
<path d="M -10,136.80 H 37.40" stroke="#9C7FE6" stroke-width="1" opacity="0.8"/>
<rect x="-10" y="143.10" width="40.2" height="23.4" rx="4.5" fill="#BCA7EA"/>
<text x="23.40" y="161.10" fill="#000" stroke="#000" stroke-width="0.35" font-size="21" text-anchor="end"  xml:space="preserve">55</text>
<rect x="-10" y="175.10" width="49.00" height="38.20" fill="#4520A0"/>
<rect x="-10" y="174.10" width="48.00" height="38.20" fill="#5F2DCF"/>
<path d="M -10,174.90 H 37.40" stroke="#9C7FE6" stroke-width="1" opacity="0.8"/>
<rect x="-10" y="181.20" width="40.2" height="23.4" rx="4.5" fill="#BCA7EA"/>
<text x="23.40" y="199.20" fill="#000" stroke="#000" stroke-width="0.35" font-size="21" text-anchor="end"  xml:space="preserve">55</text>
<rect x="-10" y="213.30" width="49.00" height="36.90" fill="#4520A0"/>
<rect x="-10" y="212.30" width="48.00" height="36.90" fill="#5F2DCF"/>
<path d="M -10,213.10 H 37.40" stroke="#9C7FE6" stroke-width="1" opacity="0.8"/>
<rect x="-10" y="219.40" width="40.2" height="23.4" rx="4.5" fill="#BCA7EA"/>
<text x="23.40" y="237.40" fill="#000" stroke="#000" stroke-width="0.35" font-size="21" text-anchor="end"  xml:space="preserve">55</text>
<rect x="-10" y="251.60" width="12.70" height="36.00" fill="#4520A0"/>
<rect x="-10" y="251.60" width="11.90" height="35.40" fill="#5F2DCF"/>
<rect x="-10" y="290.20" width="12.70" height="34.90" fill="#4520A0"/>
<rect x="-10" y="290.20" width="11.90" height="34.30" fill="#5F2DCF"/>
<rect x="-10" y="328.00" width="12.70" height="35.80" fill="#4520A0"/>
<rect x="-10" y="328.00" width="11.90" height="35.20" fill="#5F2DCF"/>
<path d="M 144.20,80.00 A 11.0,11.0 0 0 1 155.20,69.00 L 782.80,69.00 L 782.80,143.40 L 242.60,143.40 l -9.0,6.0 l -4.3,0 l -9.0,-6.0 L 209.30,143.40 A 11.0,11.0 0 0 0 198.30,154.40 L 198.30,456.50 A 11.0,11.0 0 0 0 209.30,467.50 L 782.80,467.50 L 782.80,482.20 L 155.20,482.20 A 11.0,11.0 0 0 1 144.20,471.20 Z" fill="#C9862C" transform="translate(1,1)"/>
<path d="M 144.20,80.00 A 11.0,11.0 0 0 1 155.20,69.00 L 782.80,69.00 L 782.80,143.40 L 242.60,143.40 l -9.0,6.0 l -4.3,0 l -9.0,-6.0 L 209.30,143.40 A 11.0,11.0 0 0 0 198.30,154.40 L 198.30,456.50 A 11.0,11.0 0 0 0 209.30,467.50 L 782.80,467.50 L 782.80,482.20 L 155.20,482.20 A 11.0,11.0 0 0 1 144.20,471.20 Z" fill="#FEAB3A"/>
<path d="M 145.10,471.20 L 145.10,80.00 A 10.1,10.1 0 0 1 155.20,69.90 L 781.90,69.90" fill="none" stroke="#FFCB8A" stroke-width="1.1" opacity="0.9"/>
<path d="M 782.80,142.90 L 209.30,142.90 A 11.5,11.5 0 0 0 197.80,154.40 L 197.80,456.50" fill="none" stroke="#C9862C" stroke-width="1" opacity="0.7"/>
<text x="159.00" y="94.90" fill="#fff" stroke="#fff" stroke-width="0.35" font-size="21"  xml:space="preserve">when</text>
<rect x="223.70" y="76.80" width="96.00" height="23.10" rx="4.5" fill="#FFDDA9"/>
<text x="230.90" y="94.90" fill="#000" stroke="#000" stroke-width="0.35" font-size="21"  textLength="53.0" lengthAdjust="spacingAndGlyphs" xml:space="preserve">Web1</text>
<path d="M 297.90,84.95 L 305.30,84.95 L 301.60,91.75 Z" fill="#FEAB3A"/>
<text x="328.00" y="94.90" fill="#fff" stroke="#fff" stroke-width="0.35" font-size="21"  xml:space="preserve">.GotText</text>
<rect x="172.10" y="113.20" width="38.00" height="23.20" rx="6" fill="#DC8A67" stroke="#EEAC8E" stroke-width="2.4"/>
<text x="191.10" y="132.40" fill="#000" stroke="#000" stroke-width="0.35" font-size="21" text-anchor="middle"  xml:space="preserve">url</text>
<rect x="230.90" y="113.20" width="154.20" height="23.20" rx="6" fill="#DC8A67" stroke="#EEAC8E" stroke-width="2.4"/>
<text x="308.00" y="132.40" fill="#000" stroke="#000" stroke-width="0.35" font-size="21" text-anchor="middle"  textLength="138.1" lengthAdjust="spacingAndGlyphs" xml:space="preserve">responseCode</text>
<rect x="406.00" y="113.20" width="149.20" height="23.20" rx="6" fill="#DC8A67" stroke="#EEAC8E" stroke-width="2.4"/>
<text x="480.60" y="132.40" fill="#000" stroke="#000" stroke-width="0.35" font-size="21" text-anchor="middle"  textLength="133.2" lengthAdjust="spacingAndGlyphs" xml:space="preserve">responseType</text>
<rect x="576.30" y="113.20" width="177.80" height="23.20" rx="6" fill="#DC8A67" stroke="#EEAC8E" stroke-width="2.4"/>
<text x="665.20" y="132.40" fill="#000" stroke="#000" stroke-width="0.35" font-size="21" text-anchor="middle"  textLength="162.4" lengthAdjust="spacingAndGlyphs" xml:space="preserve">responseContent</text>
<text x="159.40" y="167.60" fill="#fff" stroke="#fff" stroke-width="0.35" font-size="21"  xml:space="preserve">do</text>
<path d="M 197.60,170.60 L 197.60,155.20 A 11.7,11.7 0 0 1 209.30,143.50 L 220.00,143.50 l 9.0,6.0 l 4.3,0 l 9.0,-6.0 L 427.20,143.50" fill="none" stroke="#C9862C" stroke-width="1.2" opacity="0.85"/>
<path d="M 198.30,155.20 A 11.0,11.0 0 0 1 209.30,144.20 L 220.30,144.20 l 9.0,6.0 l 4.3,0 l 9.0,-6.0 L 427.20,144.20 L 427.20,181.60 L 242.60,181.60 l -9.0,6.0 l -4.3,0 l -9.0,-6.0 L 198.30,181.60 Z" fill="#A9432C" transform="translate(1,1)"/>
<path d="M 198.30,155.20 A 11.0,11.0 0 0 1 209.30,144.20 L 220.30,144.20 l 9.0,6.0 l 4.3,0 l 9.0,-6.0 L 427.20,144.20 L 427.20,181.60 L 242.60,181.60 l -9.0,6.0 l -4.3,0 l -9.0,-6.0 L 198.30,181.60 Z" fill="#E15D40"/>
<path d="M 199.20,181.60 L 199.20,155.20 A 10.1,10.1 0 0 1 209.30,145.10 L 220.30,145.10 l 9.0,6.0 l 4.3,0 l 9.0,-6.0 L 426.30,145.10" fill="none" stroke="#EE9A86" stroke-width="1.1" opacity="0.9"/>
<text x="213.70" y="169.60" fill="#fff" stroke="#fff" stroke-width="0.35" font-size="21"  xml:space="preserve">set</text>
<rect x="250.00" y="151.00" width="124.70" height="23.60" rx="4.5" fill="#F3BCAF"/>
<text x="257.80" y="169.50" fill="#000" stroke="#000" stroke-width="0.35" font-size="21"  xml:space="preserve">global list</text>
<path d="M 357.80,159.40 L 365.20,159.40 L 361.50,166.20 Z" fill="#E15D40"/>
<text x="382.10" y="169.60" fill="#fff" stroke="#fff" stroke-width="0.35" font-size="21"  xml:space="preserve">to</text>
<path d="M 427.20,144.20 L 685.00,144.20 L 685.00,181.60 L 427.20,181.60 L 427.20,173.60 c 0,-14.70 -11.76,11.76 -11.76,-11.03 s 11.76,3.67 11.76,-11.03 Z" fill="#26364A" transform="translate(1,1)"/>
<path d="M 427.20,144.20 L 685.00,144.20 L 685.00,181.60 L 427.20,181.60 L 427.20,173.60 c 0,-14.70 -11.76,11.76 -11.76,-11.03 s 11.76,3.67 11.76,-11.03 Z" fill="#34495E"/>
<path d="M 427.80,153.55 L 427.80,144.80 L 684.40,144.80 M 427.80,181.00 L 427.80,174.60" fill="none" stroke="#7E8EA0" stroke-width="1" opacity="0.8"/>
<text x="442.20" y="169.60" fill="#fff" stroke="#fff" stroke-width="0.35" font-size="21"  textLength="164.6" lengthAdjust="spacingAndGlyphs" xml:space="preserve">list from csv table</text>
<text x="623.00" y="169.60" fill="#fff" stroke="#fff" stroke-width="0.35" font-size="21"  xml:space="preserve">text</text>
<path d="M 685.00,144.20 L 944.80,144.20 L 944.80,180.80 L 685.00,180.80 L 685.00,173.60 c 0,-14.70 -11.76,11.76 -11.76,-11.03 s 11.76,3.67 11.76,-11.03 Z" fill="#A9432C" transform="translate(1,1)"/>
<path d="M 685.00,144.20 L 944.80,144.20 L 944.80,180.80 L 685.00,180.80 L 685.00,173.60 c 0,-14.70 -11.76,11.76 -11.76,-11.03 s 11.76,3.67 11.76,-11.03 Z" fill="#E15D40"/>
<path d="M 685.60,153.55 L 685.60,144.80 L 944.20,144.80 M 685.60,180.20 L 685.60,174.60" fill="none" stroke="#EE9A86" stroke-width="1" opacity="0.8"/>
<text x="700.00" y="169.60" fill="#fff" stroke="#fff" stroke-width="0.35" font-size="21"  xml:space="preserve">get</text>
<rect x="736.60" y="151.20" width="200.30" height="23.30" rx="4.5" fill="#F3BCAF"/>
<text x="744.40" y="169.50" fill="#000" stroke="#000" stroke-width="0.35" font-size="21"  textLength="162.1" lengthAdjust="spacingAndGlyphs" xml:space="preserve">responseContent</text>
<path d="M 918.50,159.45 L 925.90,159.45 L 922.20,166.25 Z" fill="#E15D40"/>
<path d="M 198.30,181.60 L 220.30,181.60 l 9.0,6.0 l 4.3,0 l 9.0,-6.0 L 429.80,181.60 L 429.80,257.80 L 242.60,257.80 l -9.0,6.0 l -4.3,0 l -9.0,-6.0 L 198.30,257.80 Z" fill="#26364A" transform="translate(1,1)"/>
<path d="M 198.30,181.60 L 220.30,181.60 l 9.0,6.0 l 4.3,0 l 9.0,-6.0 L 429.80,181.60 L 429.80,257.80 L 242.60,257.80 l -9.0,6.0 l -4.3,0 l -9.0,-6.0 L 198.30,257.80 Z" fill="#34495E"/>
<path d="M 199.20,257.80 L 199.20,182.50 L 220.30,182.50 l 9.0,6.0 l 4.3,0 l 9.0,-6.0 L 428.90,182.50" fill="none" stroke="#7E8EA0" stroke-width="1.1" opacity="0.9"/>
<text x="213.30" y="207.90" fill="#fff" stroke="#fff" stroke-width="0.35" font-size="21"  textLength="148.8" lengthAdjust="spacingAndGlyphs" xml:space="preserve">remove list item</text>
<text x="375.20" y="207.90" fill="#fff" stroke="#fff" stroke-width="0.35" font-size="21"  xml:space="preserve">list</text>
<text x="352.50" y="245.60" fill="#fff" stroke="#fff" stroke-width="0.35" font-size="21"  xml:space="preserve">index</text>
<path d="M 429.80,182.30 L 613.50,182.30 L 613.50,219.70 L 429.80,219.70 L 429.80,211.70 c 0,-14.70 -11.76,11.76 -11.76,-11.03 s 11.76,3.67 11.76,-11.03 Z" fill="#A9432C" transform="translate(1,1)"/>
<path d="M 429.80,182.30 L 613.50,182.30 L 613.50,219.70 L 429.80,219.70 L 429.80,211.70 c 0,-14.70 -11.76,11.76 -11.76,-11.03 s 11.76,3.67 11.76,-11.03 Z" fill="#E15D40"/>
<path d="M 430.40,191.65 L 430.40,182.90 L 612.90,182.90 M 430.40,219.10 L 430.40,212.70" fill="none" stroke="#EE9A86" stroke-width="1" opacity="0.8"/>
<text x="444.90" y="207.60" fill="#fff" stroke="#fff" stroke-width="0.35" font-size="21"  xml:space="preserve">get</text>
<rect x="481.50" y="189.80" width="124.20" height="22.70" rx="4.5" fill="#F3BCAF"/>
<text x="489.30" y="207.60" fill="#000" stroke="#000" stroke-width="0.35" font-size="21"  xml:space="preserve">global list</text>
<path d="M 588.80,197.75 L 596.20,197.75 L 592.50,204.55 Z" fill="#E15D40"/>
<path d="M 430.00,220.50 L 470.40,220.50 L 470.40,256.80 L 430.00,256.80 L 430.00,249.90 c 0,-14.70 -11.76,11.76 -11.76,-11.03 s 11.76,3.67 11.76,-11.03 Z" fill="#4520A0" transform="translate(1,1)"/>
<path d="M 430.00,220.50 L 470.40,220.50 L 470.40,256.80 L 430.00,256.80 L 430.00,249.90 c 0,-14.70 -11.76,11.76 -11.76,-11.03 s 11.76,3.67 11.76,-11.03 Z" fill="#5F2DCF"/>
<path d="M 430.60,229.85 L 430.60,221.10 L 469.80,221.10 M 430.60,256.20 L 430.60,250.90" fill="none" stroke="#9C7FE6" stroke-width="1" opacity="0.8"/>
<rect x="437.00" y="227.30" width="26.20" height="23.60" rx="4.5" fill="#BCA7EA"/>
<text x="450.10" y="245.70" fill="#000" stroke="#000" stroke-width="0.35" font-size="21" text-anchor="middle"  xml:space="preserve">1</text>
<path d="M 198.30,257.80 L 220.30,257.80 l 9.0,6.0 l 4.3,0 l 9.0,-6.0 L 533.20,257.80 L 533.20,295.40 L 289.20,295.40 l -9.0,6.0 l -4.3,0 l -9.0,-6.0 L 255.90,295.40 A 11.0,11.0 0 0 0 244.90,306.40 L 244.90,437.40 A 11.0,11.0 0 0 0 255.90,448.40 L 533.00,448.40 L 533.00,464.40 L 242.60,464.40 l -9.0,6.0 l -4.3,0 l -9.0,-6.0 L 209.30,464.40 A 11.0,11.0 0 0 1 198.30,453.40 Z" fill="#A9432C" transform="translate(1,1)"/>
<path d="M 198.30,257.80 L 220.30,257.80 l 9.0,6.0 l 4.3,0 l 9.0,-6.0 L 533.20,257.80 L 533.20,295.40 L 289.20,295.40 l -9.0,6.0 l -4.3,0 l -9.0,-6.0 L 255.90,295.40 A 11.0,11.0 0 0 0 244.90,306.40 L 244.90,437.40 A 11.0,11.0 0 0 0 255.90,448.40 L 533.00,448.40 L 533.00,464.40 L 242.60,464.40 l -9.0,6.0 l -4.3,0 l -9.0,-6.0 L 209.30,464.40 A 11.0,11.0 0 0 1 198.30,453.40 Z" fill="#E15D40"/>
<path d="M 199.20,453.40 L 199.20,258.70 L 220.30,258.70 l 9.0,6.0 l 4.3,0 l 9.0,-6.0 L 532.30,258.70" fill="none" stroke="#EE9A86" stroke-width="1.1" opacity="0.9"/>
<path d="M 533.00,294.90 L 255.90,294.90 A 11.5,11.5 0 0 0 244.40,306.40 L 244.40,437.40" fill="none" stroke="#A9432C" stroke-width="1" opacity="0.7"/>
<rect x="213.60" y="265.60" width="22.50" height="23.10" rx="5" fill="#0000FF" stroke="#fff" stroke-width="1.5"/>
<path d="M 222.86,272.24 L 223.28,270.33 L 226.42,270.33 L 226.84,272.24 L 228.11,272.97 L 229.97,272.38 L 231.54,275.10 L 230.10,276.41 L 230.10,277.89 L 231.54,279.20 L 229.97,281.92 L 228.11,281.33 L 226.84,282.06 L 226.42,283.97 L 223.28,283.97 L 222.86,282.06 L 221.59,281.33 L 219.73,281.92 L 218.16,279.20 L 219.60,277.89 L 219.60,276.41 L 218.16,275.10 L 219.73,272.38 L 221.59,272.97 Z M 227.75,277.15 A 2.9,2.9 0 1 0 221.95,277.15 A 2.9,2.9 0 1 0 227.75,277.15 Z" fill="#fff" fill-rule="evenodd" stroke="#fff" stroke-width="0.6" stroke-linejoin="round"/>
<text x="293.00" y="284.30" fill="#fff" stroke="#fff" stroke-width="0.35" font-size="21"  textLength="124.7" lengthAdjust="spacingAndGlyphs" xml:space="preserve">initialize local</text>
<rect x="423.80" y="265.20" width="57.00" height="23.30" rx="6" fill="#DC8A67" stroke="#EEAC8E" stroke-width="2.4"/>
<text x="452.30" y="284.45" fill="#000" stroke="#000" stroke-width="0.35" font-size="21" text-anchor="middle"  xml:space="preserve">sum</text>
<text x="488.90" y="284.30" fill="#fff" stroke="#fff" stroke-width="0.35" font-size="21"  xml:space="preserve">to</text>
<text x="214.00" y="319.50" fill="#fff" stroke="#fff" stroke-width="0.35" font-size="21"  xml:space="preserve">in</text>
<path d="M 533.20,258.30 L 756.70,258.30 L 756.70,294.20 L 533.20,294.20 L 533.20,287.70 c 0,-14.70 -11.76,11.76 -11.76,-11.03 s 11.76,3.67 11.76,-11.03 Z" fill="#26364A" transform="translate(1,1)"/>
<path d="M 533.20,258.30 L 756.70,258.30 L 756.70,294.20 L 533.20,294.20 L 533.20,287.70 c 0,-14.70 -11.76,11.76 -11.76,-11.03 s 11.76,3.67 11.76,-11.03 Z" fill="#34495E"/>
<path d="M 533.80,267.65 L 533.80,258.90 L 756.10,258.90 M 533.80,293.60 L 533.80,288.70" fill="none" stroke="#7E8EA0" stroke-width="1" opacity="0.8"/>
<rect x="548.40" y="265.50" width="23.30" height="23.20" rx="5" fill="#0000FF" stroke="#fff" stroke-width="1.5"/>
<path d="M 558.06,272.19 L 558.48,270.28 L 561.62,270.28 L 562.04,272.19 L 563.31,272.92 L 565.17,272.33 L 566.74,275.05 L 565.30,276.36 L 565.30,277.84 L 566.74,279.15 L 565.17,281.87 L 563.31,281.28 L 562.04,282.01 L 561.62,283.92 L 558.48,283.92 L 558.06,282.01 L 556.79,281.28 L 554.93,281.87 L 553.36,279.15 L 554.80,277.84 L 554.80,276.36 L 553.36,275.05 L 554.93,272.33 L 556.79,272.92 Z M 562.95,277.10 A 2.9,2.9 0 1 0 557.15,277.10 A 2.9,2.9 0 1 0 562.95,277.10 Z" fill="#fff" fill-rule="evenodd" stroke="#fff" stroke-width="0.6" stroke-linejoin="round"/>
<text x="588.40" y="284.30" fill="#fff" stroke="#fff" stroke-width="0.35" font-size="21"  textLength="155.8" lengthAdjust="spacingAndGlyphs" xml:space="preserve">create empty list</text>
<path d="M 244.20,396.70 L 244.20,307.20 A 11.7,11.7 0 0 1 255.90,295.50 L 266.60,295.50 l 9.0,6.0 l 4.3,0 l 9.0,-6.0 L 483.80,295.50" fill="none" stroke="#A9432C" stroke-width="1.2" opacity="0.85"/>
<path d="M 244.90,307.20 A 11.0,11.0 0 0 1 255.90,296.20 L 266.90,296.20 l 9.0,6.0 l 4.3,0 l 9.0,-6.0 L 483.80,296.20 L 483.80,333.50 L 343.90,333.50 l -9.0,6.0 l -4.3,0 l -9.0,-6.0 L 310.60,333.50 A 11.0,11.0 0 0 0 299.60,344.50 L 299.60,379.00 A 11.0,11.0 0 0 0 310.60,390.00 L 482.60,390.00 L 482.60,407.70 L 289.20,407.70 l -9.0,6.0 l -4.3,0 l -9.0,-6.0 L 244.90,407.70 Z" fill="#C9862C" transform="translate(1,1)"/>
<path d="M 244.90,307.20 A 11.0,11.0 0 0 1 255.90,296.20 L 266.90,296.20 l 9.0,6.0 l 4.3,0 l 9.0,-6.0 L 483.80,296.20 L 483.80,333.50 L 343.90,333.50 l -9.0,6.0 l -4.3,0 l -9.0,-6.0 L 310.60,333.50 A 11.0,11.0 0 0 0 299.60,344.50 L 299.60,379.00 A 11.0,11.0 0 0 0 310.60,390.00 L 482.60,390.00 L 482.60,407.70 L 289.20,407.70 l -9.0,6.0 l -4.3,0 l -9.0,-6.0 L 244.90,407.70 Z" fill="#FEAB3A"/>
<path d="M 245.80,396.70 L 245.80,307.20 A 10.1,10.1 0 0 1 255.90,297.10 L 266.90,297.10 l 9.0,6.0 l 4.3,0 l 9.0,-6.0 L 482.90,297.10" fill="none" stroke="#FFCB8A" stroke-width="1.1" opacity="0.9"/>
<path d="M 482.60,333.00 L 310.60,333.00 A 11.5,11.5 0 0 0 299.10,344.50 L 299.10,379.00" fill="none" stroke="#C9862C" stroke-width="1" opacity="0.7"/>
<text x="260.70" y="321.40" fill="#fff" stroke="#fff" stroke-width="0.35" font-size="21"  xml:space="preserve">for each</text>
<rect x="345.60" y="304.10" width="54.70" height="22.70" rx="6" fill="#DC8A67" stroke="#EEAC8E" stroke-width="2.4"/>
<text x="372.95" y="322.80" fill="#000" stroke="#000" stroke-width="0.35" font-size="21" text-anchor="middle"  xml:space="preserve">item</text>
<text x="409.00" y="321.40" fill="#fff" stroke="#fff" stroke-width="0.35" font-size="21"  xml:space="preserve">in list</text>
<path d="M 484.00,297.00 L 669.60,297.00 L 669.60,332.30 L 484.00,332.30 L 484.00,326.40 c 0,-14.70 -11.76,11.76 -11.76,-11.03 s 11.76,3.67 11.76,-11.03 Z" fill="#A9432C" transform="translate(1,1)"/>
<path d="M 484.00,297.00 L 669.60,297.00 L 669.60,332.30 L 484.00,332.30 L 484.00,326.40 c 0,-14.70 -11.76,11.76 -11.76,-11.03 s 11.76,3.67 11.76,-11.03 Z" fill="#E15D40"/>
<path d="M 484.60,306.35 L 484.60,297.60 L 669.00,297.60 M 484.60,331.70 L 484.60,327.40" fill="none" stroke="#EE9A86" stroke-width="1" opacity="0.8"/>
<text x="499.00" y="322.00" fill="#fff" stroke="#fff" stroke-width="0.35" font-size="21"  xml:space="preserve">get</text>
<rect x="535.60" y="302.50" width="126.00" height="25.00" rx="4.5" fill="#F3BCAF"/>
<text x="543.40" y="322.00" fill="#000" stroke="#000" stroke-width="0.35" font-size="21"  xml:space="preserve">global list</text>
<path d="M 644.70,311.60 L 652.10,311.60 L 648.40,318.40 Z" fill="#E15D40"/>
<text x="260.30" y="358.80" fill="#fff" stroke="#fff" stroke-width="0.35" font-size="21"  xml:space="preserve">do</text>
<path d="M 298.90,375.90 L 298.90,344.80 A 11.7,11.7 0 0 1 310.60,333.10 L 321.30,333.10 l 9.0,6.0 l 4.3,0 l 9.0,-6.0 L 483.80,333.10" fill="none" stroke="#C9862C" stroke-width="1.2" opacity="0.85"/>
<path d="M 299.60,344.80 A 11.0,11.0 0 0 1 310.60,333.80 L 321.60,333.80 l 9.0,6.0 l 4.3,0 l 9.0,-6.0 L 483.80,333.80 L 483.80,386.90 L 343.90,386.90 l -9.0,6.0 l -4.3,0 l -9.0,-6.0 L 310.60,386.90 A 11.0,11.0 0 0 1 299.60,375.90 Z" fill="#A9432C" transform="translate(1,1)"/>
<path d="M 299.60,344.80 A 11.0,11.0 0 0 1 310.60,333.80 L 321.60,333.80 l 9.0,6.0 l 4.3,0 l 9.0,-6.0 L 483.80,333.80 L 483.80,386.90 L 343.90,386.90 l -9.0,6.0 l -4.3,0 l -9.0,-6.0 L 310.60,386.90 A 11.0,11.0 0 0 1 299.60,375.90 Z" fill="#E15D40"/>
<path d="M 300.50,386.90 L 300.50,344.80 A 10.1,10.1 0 0 1 310.60,334.70 L 321.60,334.70 l 9.0,6.0 l 4.3,0 l 9.0,-6.0 L 482.90,334.70" fill="none" stroke="#EE9A86" stroke-width="1.1" opacity="0.9"/>
<text x="314.60" y="359.30" fill="#fff" stroke="#fff" stroke-width="0.35" font-size="21"  xml:space="preserve">set</text>
<rect x="351.00" y="342.00" width="79.30" height="22.60" rx="4.5" fill="#F3BCAF"/>
<text x="358.80" y="359.60" fill="#000" stroke="#000" stroke-width="0.35" font-size="21"  xml:space="preserve">sum</text>
<path d="M 409.80,349.90 L 417.20,349.90 L 413.50,356.70 Z" fill="#E15D40"/>
<text x="437.80" y="359.30" fill="#fff" stroke="#fff" stroke-width="0.35" font-size="21"  xml:space="preserve">to</text>
<path d="M 483.50,334.30 L 891.50,334.30 L 891.50,387.20 L 483.50,387.20 L 483.50,363.70 c 0,-14.70 -11.76,11.76 -11.76,-11.03 s 11.76,3.67 11.76,-11.03 Z" fill="#4520A0" transform="translate(1,1)"/>
<path d="M 483.50,334.30 L 891.50,334.30 L 891.50,387.20 L 483.50,387.20 L 483.50,363.70 c 0,-14.70 -11.76,11.76 -11.76,-11.03 s 11.76,3.67 11.76,-11.03 Z" fill="#5F2DCF"/>
<path d="M 484.10,343.65 L 484.10,334.90 L 890.90,334.90 M 484.10,386.60 L 484.10,364.70" fill="none" stroke="#9C7FE6" stroke-width="1" opacity="0.8"/>
<rect x="497.60" y="341.70" width="23.20" height="23.10" rx="5" fill="#0000FF" stroke="#fff" stroke-width="1.5"/>
<path d="M 507.21,348.34 L 507.63,346.43 L 510.77,346.43 L 511.19,348.34 L 512.46,349.07 L 514.32,348.48 L 515.89,351.20 L 514.45,352.51 L 514.45,353.99 L 515.89,355.30 L 514.32,358.02 L 512.46,357.43 L 511.19,358.16 L 510.77,360.07 L 507.63,360.07 L 507.21,358.16 L 505.94,357.43 L 504.08,358.02 L 502.51,355.30 L 503.95,353.99 L 503.95,352.51 L 502.51,351.20 L 504.08,348.48 L 505.94,349.07 Z M 512.10,353.25 A 2.9,2.9 0 1 0 506.30,353.25 A 2.9,2.9 0 1 0 512.10,353.25 Z" fill="#fff" fill-rule="evenodd" stroke="#fff" stroke-width="0.6" stroke-linejoin="round"/>
<rect x="546.70" y="342.30" width="142.80" height="39.90" fill="none" stroke="#9C7FE6" stroke-width="1.2" opacity="0.9"/>
<path d="M 547.20,342.80 L 688.50,342.80 L 688.50,381.20 L 547.20,381.20 L 547.20,372.20 c 0,-14.70 -11.76,11.76 -11.76,-11.03 s 11.76,3.67 11.76,-11.03 Z" fill="#A9432C" transform="translate(1,1)"/>
<path d="M 547.20,342.80 L 688.50,342.80 L 688.50,381.20 L 547.20,381.20 L 547.20,372.20 c 0,-14.70 -11.76,11.76 -11.76,-11.03 s 11.76,3.67 11.76,-11.03 Z" fill="#E15D40"/>
<path d="M 547.80,352.15 L 547.80,343.40 L 687.90,343.40 M 547.80,380.60 L 547.80,373.20" fill="none" stroke="#EE9A86" stroke-width="1" opacity="0.8"/>
<text x="562.00" y="367.70" fill="#fff" stroke="#fff" stroke-width="0.35" font-size="21"  xml:space="preserve">get</text>
<rect x="599.50" y="350.30" width="79.40" height="23.20" rx="4.5" fill="#F3BCAF"/>
<text x="607.30" y="368.20" fill="#000" stroke="#000" stroke-width="0.35" font-size="21"  xml:space="preserve">sum</text>
<path d="M 658.00,358.50 L 665.40,358.50 L 661.70,365.30 Z" fill="#E15D40"/>
<text x="708.00" y="367.00" fill="#fff" stroke="#fff" stroke-width="0.35" font-size="21" text-anchor="middle"  xml:space="preserve">+</text>
<rect x="738.80" y="342.30" width="139.00" height="39.90" fill="none" stroke="#9C7FE6" stroke-width="1.2" opacity="0.9"/>
<path d="M 739.30,342.80 L 876.80,342.80 L 876.80,381.20 L 739.30,381.20 L 739.30,372.20 c 0,-14.70 -11.76,11.76 -11.76,-11.03 s 11.76,3.67 11.76,-11.03 Z" fill="#A9432C" transform="translate(1,1)"/>
<path d="M 739.30,342.80 L 876.80,342.80 L 876.80,381.20 L 739.30,381.20 L 739.30,372.20 c 0,-14.70 -11.76,11.76 -11.76,-11.03 s 11.76,3.67 11.76,-11.03 Z" fill="#E15D40"/>
<path d="M 739.90,352.15 L 739.90,343.40 L 876.20,343.40 M 739.90,380.60 L 739.90,373.20" fill="none" stroke="#EE9A86" stroke-width="1" opacity="0.8"/>
<text x="754.70" y="367.70" fill="#fff" stroke="#fff" stroke-width="0.35" font-size="21"  xml:space="preserve">get</text>
<rect x="791.70" y="350.30" width="75.80" height="23.20" rx="4.5" fill="#F3BCAF"/>
<text x="799.50" y="368.20" fill="#000" stroke="#000" stroke-width="0.35" font-size="21"  xml:space="preserve">item</text>
<path d="M 850.60,358.50 L 858.00,358.50 L 854.30,365.30 Z" fill="#E15D40"/>
<path d="M 245.20,407.20 L 267.20,407.20 l 9.0,6.0 l 4.3,0 l 9.0,-6.0 L 631.70,407.20 L 631.70,444.60 L 289.50,444.60 l -9.0,6.0 l -4.3,0 l -9.0,-6.0 L 256.20,444.60 A 11.0,11.0 0 0 1 245.20,433.60 Z" fill="#1B6659" transform="translate(1,1)"/>
<path d="M 245.20,407.20 L 267.20,407.20 l 9.0,6.0 l 4.3,0 l 9.0,-6.0 L 631.70,407.20 L 631.70,444.60 L 289.50,444.60 l -9.0,6.0 l -4.3,0 l -9.0,-6.0 L 256.20,444.60 A 11.0,11.0 0 0 1 245.20,433.60 Z" fill="#268677"/>
<path d="M 246.10,444.60 L 246.10,408.10 L 267.20,408.10 l 9.0,6.0 l 4.3,0 l 9.0,-6.0 L 630.80,408.10" fill="none" stroke="#6FB3A8" stroke-width="1.1" opacity="0.9"/>
<text x="260.00" y="432.10" fill="#fff" stroke="#fff" stroke-width="0.35" font-size="21"  xml:space="preserve">set</text>
<rect x="302.20" y="415.00" width="170.90" height="22.90" rx="4.5" fill="#A8D0CB"/>
<text x="310.00" y="432.10" fill="#000" stroke="#000" stroke-width="0.35" font-size="21"  xml:space="preserve">lbl_osl_depa</text>
<path d="M 453.50,423.05 L 460.90,423.05 L 457.20,429.85 Z" fill="#268677"/>
<text x="481.00" y="432.10" fill="#fff" stroke="#fff" stroke-width="0.35" font-size="21"  xml:space="preserve">.</text>
<rect x="494.50" y="415.30" width="78.10" height="22.30" rx="4.5" fill="#A8D0CB"/>
<text x="502.30" y="432.10" fill="#000" stroke="#000" stroke-width="0.35" font-size="21"  xml:space="preserve">Text</text>
<path d="M 553.00,423.05 L 560.40,423.05 L 556.70,429.85 Z" fill="#268677"/>
<text x="586.00" y="432.10" fill="#fff" stroke="#fff" stroke-width="0.35" font-size="21"  xml:space="preserve">to</text>
<path d="M 631.70,407.20 L 770.80,407.20 L 770.80,444.40 L 631.70,444.40 L 631.70,436.60 c 0,-14.70 -11.76,11.76 -11.76,-11.03 s 11.76,3.67 11.76,-11.03 Z" fill="#A9432C" transform="translate(1,1)"/>
<path d="M 631.70,407.20 L 770.80,407.20 L 770.80,444.40 L 631.70,444.40 L 631.70,436.60 c 0,-14.70 -11.76,11.76 -11.76,-11.03 s 11.76,3.67 11.76,-11.03 Z" fill="#E15D40"/>
<path d="M 632.30,416.55 L 632.30,407.80 L 770.20,407.80 M 632.30,443.80 L 632.30,437.60" fill="none" stroke="#EE9A86" stroke-width="1" opacity="0.8"/>
<text x="647.00" y="432.10" fill="#fff" stroke="#fff" stroke-width="0.35" font-size="21"  xml:space="preserve">get</text>
<rect x="683.80" y="415.00" width="79.20" height="22.60" rx="4.5" fill="#F3BCAF"/>
<text x="691.60" y="432.10" fill="#000" stroke="#000" stroke-width="0.35" font-size="21"  xml:space="preserve">sum</text>
<path d="M 741.70,422.90 L 749.10,422.90 L 745.40,429.70 Z" fill="#E15D40"/>
<circle cx="264.4" cy="277.2" r="13.8" fill="#FF0000"/>
<path d="M 257.6,270.6 L 271.4,284.2 M 271.4,270.6 L 257.6,284.2" stroke="#fff" stroke-width="2.6" stroke-linecap="butt"/>
<path d="M 1139.30,274.20 L 1220.00,274.20 L 1220.00,310.60 L 1139.30,310.60 L 1139.30,303.60 c 0,-14.70 -11.76,11.76 -11.76,-11.03 s 11.76,3.67 11.76,-11.03 Z" fill="#4520A0" transform="translate(1,1)"/>
<path d="M 1139.30,274.20 L 1220.00,274.20 L 1220.00,310.60 L 1139.30,310.60 L 1139.30,303.60 c 0,-14.70 -11.76,11.76 -11.76,-11.03 s 11.76,3.67 11.76,-11.03 Z" fill="#5F2DCF"/>
<path d="M 1139.90,283.55 L 1139.90,274.80 L 1219.40,274.80 M 1139.90,310.00 L 1139.90,304.60" fill="none" stroke="#9C7FE6" stroke-width="1" opacity="0.8"/>
<path d="M 1165.5,282 L 1177.3,302.6 L 1153.7,302.6 Z" fill="#FFFF55" stroke="#555" stroke-width="1.2" stroke-linejoin="round"/>
<rect x="1163.9" y="287.5" width="3.2" height="8.5" fill="#000"/><rect x="1163.9" y="297.6" width="3.2" height="3" fill="#000"/>
<rect x="1186.20" y="281.00" width="25.90" height="23.80" rx="4.5" fill="#BCA7EA"/>
<text x="1199.15" y="299.50" fill="#000" stroke="#000" stroke-width="0.35" font-size="21" text-anchor="middle"  xml:space="preserve">0</text>
<path d="M 507.0,504.8 C 471.8,429.5 272.7,285.5 272.7,285.5 C 272.7,285.5 457.0,444.3 492.1,519.6 Z" fill="#E98D80" transform="translate(0.9,0.3)"/>
<path d="M 507.0,504.8 C 471.8,429.5 272.7,285.5 272.7,285.5 C 272.7,285.5 457.0,444.3 492.1,519.6 Z" fill="#FFB3A9" stroke="#F4A095" stroke-width="0.9" transform="translate(-0.3,0)"/>
<rect x="30.7" y="490.4" width="938.0" height="45.0" rx="7.5" fill="#E88274"/>
<rect x="30.7" y="489.4" width="937.0" height="44.1" rx="7.5" fill="#FFB3A9"/>
<g transform="scale(1.07,1)">
<text x="37.10" y="518.80" fill="#000" stroke="#000" stroke-width="0.1" font-size="20.3" textLength="45.33" lengthAdjust="spacing" xml:space="preserve">Error</text>
<text x="87.76" y="518.80" fill="#000" stroke="#000" stroke-width="0.1" font-size="20.3" textLength="43.18" lengthAdjust="spacing" xml:space="preserve">from</text>
<text x="137.01" y="518.80" fill="#000" stroke="#000" stroke-width="0.1" font-size="20.3" textLength="114.30" lengthAdjust="spacing" xml:space="preserve">Companion:</text>
<text x="256.64" y="518.80" fill="#000" stroke="#000" stroke-width="0.1" font-size="20.3" textLength="35.98" lengthAdjust="spacing" xml:space="preserve">The</text>
<text x="297.94" y="518.80" fill="#000" stroke="#000" stroke-width="0.1" font-size="20.3" textLength="92.43" lengthAdjust="spacing" xml:space="preserve">operation</text>
<text x="395.70" y="518.80" fill="#000" stroke="#000" stroke-width="0.1" font-size="20.3"  xml:space="preserve">+</text>
<text x="413.64" y="518.80" fill="#000" stroke="#000" stroke-width="0.1" font-size="20.3" textLength="65.14" lengthAdjust="spacing" xml:space="preserve">cannot</text>
<text x="484.11" y="518.80" fill="#000" stroke="#000" stroke-width="0.1" font-size="20.3" textLength="65.14" lengthAdjust="spacing" xml:space="preserve">accept</text>
<text x="554.58" y="518.80" fill="#000" stroke="#000" stroke-width="0.1" font-size="20.3" textLength="31.59" lengthAdjust="spacing" xml:space="preserve">the</text>
<text x="591.50" y="518.80" fill="#000" stroke="#000" stroke-width="0.1" font-size="20.3" textLength="107.29" lengthAdjust="spacing" xml:space="preserve">arguments:</text>
<text x="704.11" y="518.80" fill="#000" stroke="#000" stroke-width="0.1" font-size="20.3"  xml:space="preserve">,</text>
<text x="716.17" y="518.80" fill="#000" stroke="#000" stroke-width="0.1" font-size="20.3" textLength="34.67" lengthAdjust="spacing" xml:space="preserve">[[]],</text>
<text x="756.17" y="518.80" fill="#000" stroke="#000" stroke-width="0.1" font-size="20.3" textLength="139.07" lengthAdjust="spacing" xml:space="preserve">[[&quot;51666200&quot;]]</text>
</g>
</svg></body></html>
